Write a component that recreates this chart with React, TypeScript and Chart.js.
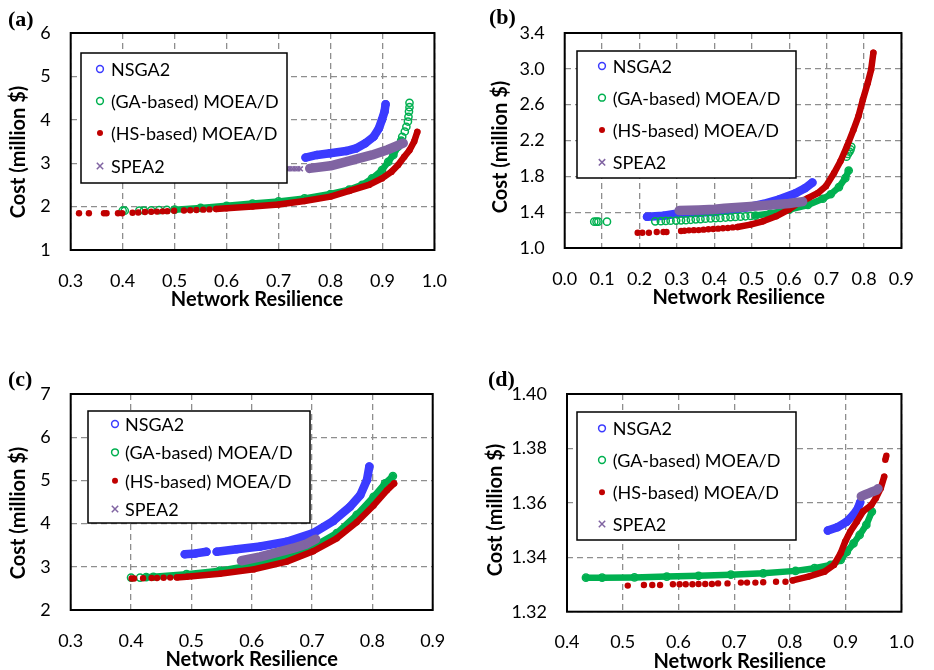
import React, { useEffect, useRef } from "react";
import { Chart, registerables } from "chart.js";
Chart.register(...registerables);

type P = [number, number];

const SERIES_NAMES = ["NSGA2", "(GA-based) MOEA/D", "(HS-based) MOEA/D", "SPEA2"];
const X_TITLE = "Network Resilience";
const Y_TITLE = "Cost (million $)";
const PANEL_LABELS = ["(a)", "(b)", "(c)", "(d)"];

// ---------- Panel (a)
const A_X_TICKS = [0.3, 0.4, 0.5, 0.6, 0.7, 0.8, 0.9, 1.0];
const A_Y_TICKS = [1, 2, 3, 4, 5, 6];
const A_NSGA2: P[] = [[0.752, 3.13], [0.774, 3.19], [0.799, 3.23], [0.830, 3.28], [0.849, 3.34], [0.867, 3.46], [0.883, 3.61], [0.893, 3.80], [0.899, 4.00], [0.904, 4.19], [0.906, 4.36]];
const A_GA_PTS: P[] = [[0.400, 1.905], [0.404, 1.905], [0.432, 1.91], [0.441, 1.91], [0.455, 1.915], [0.470, 1.92], [0.485, 1.925], [0.938, 3.61], [0.943, 3.73], [0.946, 3.84], [0.949, 3.96], [0.950, 4.07], [0.951, 4.19], [0.952, 4.29], [0.952, 4.39]];
const A_GA: P[] = [[0.500, 1.93], [0.550, 1.97], [0.600, 2.02], [0.650, 2.07], [0.700, 2.12], [0.750, 2.19], [0.800, 2.29], [0.836, 2.39], [0.861, 2.50], [0.880, 2.65], [0.899, 2.84], [0.911, 3.03], [0.921, 3.19], [0.930, 3.38], [0.936, 3.52]];
const A_HS_PTS: P[] = [[0.316, 1.846], [0.335, 1.846], [0.364, 1.846], [0.369, 1.846], [0.391, 1.846], [0.399, 1.846], [0.419, 1.86], [0.430, 1.865], [0.443, 1.875], [0.455, 1.88], [0.466, 1.885], [0.477, 1.89], [0.486, 1.895], [0.499, 1.905], [0.518, 1.91], [0.530, 1.915], [0.542, 1.92], [0.555, 1.93], [0.567, 1.935]];
const A_HS: P[] = [[0.580, 1.945], [0.600, 1.96], [0.650, 2.00], [0.700, 2.05], [0.750, 2.13], [0.800, 2.23], [0.836, 2.36], [0.874, 2.50], [0.899, 2.65], [0.917, 2.80], [0.930, 2.96], [0.942, 3.15], [0.952, 3.30], [0.961, 3.50], [0.967, 3.72]];
const A_SPEA2_PTS: P[] = [[0.717, 2.87], [0.722, 2.87], [0.727, 2.87], [0.732, 2.87], [0.737, 2.87], [0.742, 2.87]];
const A_SPEA2: P[] = [[0.760, 2.88], [0.800, 2.94], [0.842, 3.07], [0.880, 3.19], [0.910, 3.31], [0.940, 3.46]];

// ---------- Panel (b)
const B_X_TICKS = [0.0, 0.1, 0.2, 0.3, 0.4, 0.5, 0.6, 0.7, 0.8, 0.9];
const B_Y_TICKS = [1.0, 1.4, 1.8, 2.2, 2.6, 3.0, 3.4];
const B_NSGA2: P[] = [[0.220, 1.348], [0.264, 1.36], [0.302, 1.385], [0.358, 1.394], [0.401, 1.405], [0.444, 1.424], [0.487, 1.454], [0.530, 1.491], [0.574, 1.543], [0.617, 1.61], [0.642, 1.666], [0.662, 1.73]];
const B_GA_PTS: P[] = [[0.079, 1.294], [0.085, 1.294], [0.090, 1.294], [0.113, 1.294], [0.242, 1.298], [0.257, 1.30], [0.270, 1.302], [0.283, 1.304], [0.298, 1.306], [0.311, 1.309], [0.324, 1.31], [0.337, 1.315], [0.350, 1.32], [0.363, 1.323], [0.376, 1.327], [0.390, 1.33], [0.403, 1.333], [0.416, 1.336], [0.430, 1.34], [0.443, 1.343], [0.456, 1.347], [0.470, 1.35], [0.483, 1.354], [0.497, 1.358], [0.753, 2.02], [0.757, 2.05], [0.761, 2.075], [0.764, 2.10], [0.766, 2.13]];
const B_GA: P[] = [[0.510, 1.362], [0.550, 1.385], [0.600, 1.428], [0.650, 1.48], [0.690, 1.55], [0.711, 1.60], [0.733, 1.68], [0.750, 1.78], [0.759, 1.865]];
const B_HS_PTS: P[] = [[0.195, 1.171], [0.2075, 1.171], [0.225, 1.171], [0.246, 1.179], [0.264, 1.179], [0.272, 1.179], [0.311, 1.19], [0.320, 1.192], [0.332, 1.197], [0.345, 1.199], [0.358, 1.20], [0.371, 1.205], [0.384, 1.209], [0.397, 1.212], [0.410, 1.216], [0.423, 1.22], [0.436, 1.224], [0.449, 1.23]];
const B_HS: P[] = [[0.462, 1.235], [0.496, 1.261], [0.530, 1.298], [0.565, 1.354], [0.599, 1.428], [0.625, 1.503], [0.651, 1.558], [0.677, 1.614], [0.698, 1.689], [0.720, 1.837], [0.737, 1.968], [0.7545, 2.135], [0.772, 2.321], [0.785, 2.47], [0.797, 2.657], [0.810, 2.843], [0.819, 2.99], [0.825, 3.18]];
const B_SPEA2: P[] = [[0.306, 1.418], [0.358, 1.424], [0.401, 1.432], [0.427, 1.443], [0.487, 1.461], [0.548, 1.48], [0.599, 1.497], [0.636, 1.518]];

// ---------- Panel (c)
const C_X_TICKS = [0.3, 0.4, 0.5, 0.6, 0.7, 0.8, 0.9];
const C_Y_TICKS = [2, 3, 4, 5, 6, 7];
const C_NSGA2_1: P[] = [[0.489, 3.29], [0.507, 3.31], [0.525, 3.35]];
const C_NSGA2_2: P[] = [[0.542, 3.35], [0.575, 3.405], [0.614, 3.47], [0.658, 3.58], [0.702, 3.78], [0.735, 4.06], [0.763, 4.39], [0.780, 4.66], [0.791, 5.01], [0.795, 5.32]];
const C_GA_PTS: P[] = [[0.400, 2.75], [0.415, 2.75]];
const C_GA: P[] = [[0.425, 2.76], [0.437, 2.77], [0.492, 2.83], [0.547, 2.91], [0.603, 3.04], [0.658, 3.25], [0.702, 3.47], [0.741, 3.78], [0.774, 4.20], [0.802, 4.62], [0.821, 4.93], [0.834, 5.10]];
const C_HS_PTS: P[] = [[0.401, 2.73], [0.405, 2.73], [0.420, 2.735], [0.434, 2.74], [0.443, 2.74], [0.454, 2.745], [0.465, 2.75]];
const C_HS: P[] = [[0.476, 2.755], [0.492, 2.77], [0.547, 2.84], [0.603, 2.94], [0.658, 3.12], [0.702, 3.36], [0.741, 3.66], [0.774, 4.03], [0.802, 4.42], [0.824, 4.77], [0.836, 4.93]];
const C_SPEA2: P[] = [[0.583, 3.14], [0.614, 3.23], [0.641, 3.33], [0.669, 3.43], [0.691, 3.53], [0.706, 3.64]];

// ---------- Panel (d)
const D_X_TICKS = [0.4, 0.5, 0.6, 0.7, 0.8, 0.9, 1.0];
const D_Y_TICKS = [1.32, 1.34, 1.36, 1.38, 1.40];
const D_NSGA2: P[] = [[0.868, 1.3498], [0.885, 1.351], [0.902, 1.3531], [0.914, 1.3556], [0.922, 1.358], [0.926, 1.3602]];
const D_GA: P[] = [[0.434, 1.3325], [0.463, 1.3325], [0.521, 1.3326], [0.579, 1.3329], [0.636, 1.3332], [0.694, 1.3336], [0.752, 1.3341], [0.810, 1.335], [0.844, 1.336], [0.873, 1.3372], [0.891, 1.339], [0.902, 1.342], [0.914, 1.3451], [0.925, 1.3482], [0.937, 1.3519], [0.947, 1.3568]];
const D_HS_PTS: P[] = [[0.509, 1.3296], [0.538, 1.3298], [0.553, 1.3298], [0.567, 1.3298], [0.590, 1.3301], [0.602, 1.3301], [0.613, 1.3301], [0.625, 1.3301], [0.636, 1.3302], [0.648, 1.3302], [0.660, 1.3302], [0.671, 1.3304], [0.688, 1.3304], [0.712, 1.3307], [0.723, 1.3307], [0.738, 1.3307], [0.752, 1.3308], [0.775, 1.331], [0.792, 1.331], [0.971, 1.3758], [0.972, 1.3766], [0.973, 1.3773]];
const D_HS: P[] = [[0.805, 1.3315], [0.833, 1.3329], [0.862, 1.3347], [0.879, 1.3372], [0.891, 1.3415], [0.899, 1.3457], [0.908, 1.3494], [0.920, 1.3531], [0.931, 1.3568], [0.946, 1.3592], [0.954, 1.3617], [0.963, 1.3654], [0.969, 1.3696]];
const D_SPEA2: P[] = [[0.928, 1.3624], [0.935, 1.3630], [0.942, 1.3636], [0.948, 1.3641], [0.955, 1.3646], [0.958, 1.3652]];

// ---------- styling
const STYLES = [
  { color: "#3b3bff", pointStyle: "circle", radius: 3.5, bw: 1.5, fill: "transparent", band: 8.5 },
  { color: "#00b050", pointStyle: "circle", radius: 3.6, bw: 1.5, fill: "transparent", band: 6.5 },
  { color: "#c00000", pointStyle: "circle", radius: 3.2, bw: 0, fill: "#c00000", band: 6.5 },
  { color: "#8064a2", pointStyle: "crossRot", radius: 3.5, bw: 1.5, fill: "transparent", band: 9.5 },
];

type Series = { bands: P[][]; pts: P[][] };
type Cfg = {
  label: string;
  box: { x: number; y: number; w: number; h: number };
  area: { l: number; t: number; r: number; b: number };
  xt: number[]; yt: number[]; xd: number; yd: number;
  series: Series[];
  legend: { dx: number; dy: number; w: number; h: number; mx: number; tx: number; rows: number[] };
  xTitle: [number, number]; yTitle: [number, number]; lab: [number, number];
};

const PANELS: Cfg[] = [
  {
    label: PANEL_LABELS[0], box: { x: 0, y: 0, w: 467, h: 335 }, area: { l: 70.7, t: 33, r: 444, b: 250 },
    xt: A_X_TICKS, yt: A_Y_TICKS, xd: 1, yd: 0,
    series: [
      { bands: [A_NSGA2], pts: [] },
      { bands: [A_GA], pts: [A_GA_PTS] },
      { bands: [A_HS], pts: [A_HS_PTS] },
      { bands: [A_SPEA2], pts: [A_SPEA2_PTS] },
    ],
    legend: { dx: 10.3, dy: 20, w: 206, h: 130, mx: 19, tx: 30, rows: [16, 48, 80, 113] },
    xTitle: [257, 298], yTitle: [17, 152], lab: [8, 8],
  },
  {
    label: PANEL_LABELS[1], box: { x: 467, y: 0, w: 467, h: 335 }, area: { l: 564.7, t: 33, r: 913, b: 248 },
    xt: B_X_TICKS, yt: B_Y_TICKS, xd: 1, yd: 1,
    series: [
      { bands: [B_NSGA2], pts: [] },
      { bands: [B_GA], pts: [B_GA_PTS] },
      { bands: [B_HS], pts: [B_HS_PTS] },
      { bands: [B_SPEA2], pts: [] },
    ],
    legend: { dx: 12.3, dy: 18, w: 219, h: 127, mx: 25, tx: 35.7, rows: [15, 46.7, 79, 111.3] },
    xTitle: [738.7, 296], yTitle: [499, 147], lab: [489, 6],
  },
  {
    label: PANEL_LABELS[2], box: { x: 0, y: 335, w: 467, h: 335 }, area: { l: 70.7, t: 394, r: 432.7, b: 610 },
    xt: C_X_TICKS, yt: C_Y_TICKS, xd: 1, yd: 0,
    series: [
      { bands: [C_NSGA2_1, C_NSGA2_2], pts: [] },
      { bands: [C_GA], pts: [C_GA_PTS] },
      { bands: [C_HS], pts: [C_HS_PTS] },
      { bands: [C_SPEA2], pts: [] },
    ],
    legend: { dx: 17.3, dy: 17, w: 222, h: 112, mx: 27, tx: 37, rows: [13, 41.3, 69.7, 98] },
    xTitle: [251.7, 658], yTitle: [17, 513], lab: [8, 368],
  },
  {
    label: PANEL_LABELS[3], box: { x: 467, y: 335, w: 467, h: 335 }, area: { l: 567, t: 394, r: 913, b: 611.7 },
    xt: D_X_TICKS, yt: D_Y_TICKS, xd: 1, yd: 2,
    series: [
      { bands: [D_NSGA2], pts: [] },
      { bands: [D_GA], pts: [] },
      { bands: [D_HS], pts: [D_HS_PTS] },
      { bands: [D_SPEA2], pts: [] },
    ],
    legend: { dx: 10, dy: 18, w: 219, h: 128, mx: 25, tx: 35.7, rows: [16.3, 48, 80.3, 112] },
    xTitle: [739.7, 660], yTitle: [493.5, 509.5], lab: [488, 368],
  },
];

const TICK_FONT = { family: "Lato", size: 18 };

function drawMarker(ctx: CanvasRenderingContext2D, i: number, x: number, y: number) {
  const s = STYLES[i];
  ctx.save();
  ctx.strokeStyle = s.color;
  ctx.fillStyle = s.color;
  ctx.lineWidth = 1.5;
  if (i === 3) {
    const r = 3.2;
    ctx.beginPath();
    ctx.moveTo(x - r, y - r); ctx.lineTo(x + r, y + r);
    ctx.moveTo(x - r, y + r); ctx.lineTo(x + r, y - r);
    ctx.stroke();
  } else if (i === 2) {
    ctx.beginPath(); ctx.arc(x, y, 3, 0, Math.PI * 2); ctx.fill();
  } else {
    ctx.beginPath(); ctx.arc(x, y, 3.4, 0, Math.PI * 2); ctx.stroke();
  }
  ctx.restore();
}

function Panel({ cfg }: { cfg: Cfg }) {
  const ref = useRef<HTMLCanvasElement>(null);
  useEffect(() => {
    const datasets: any[] = [];
    cfg.series.forEach((s, i) => {
      const st = STYLES[i];
      const order = 3 - i;
      const common = {
        pointStyle: st.pointStyle, pointRadius: st.radius, pointBorderWidth: st.bw,
        pointBorderColor: st.color, pointBackgroundColor: st.fill, order,
      };
      s.bands.forEach((b) => datasets.push({
        ...common, data: b.map(([x, y]) => ({ x, y })), showLine: true,
        borderColor: st.color, borderWidth: st.band, borderCapStyle: "round", borderJoinStyle: "round",
        pointBackgroundColor: i === 2 ? st.color : "transparent",
      }));
      s.pts.forEach((p) => datasets.push({ ...common, data: p.map(([x, y]) => ({ x, y })), showLine: false }));
    });
    const { box, area } = cfg;
    const grid = { color: "#8e8e8e", lineWidth: 1.3, drawTicks: false };
    const border = { display: false, dash: [6, 4] };
    const plugin = {
      id: "frameLegend",
      afterDatasetsDraw(chart: any) {
        const ctx: CanvasRenderingContext2D = chart.ctx;
        const a = chart.chartArea;
        const L = cfg.legend;
        const bx = a.left + L.dx, by = a.top + L.dy;
        ctx.save();
        ctx.fillStyle = "#fff";
        ctx.fillRect(bx, by, L.w, L.h);
        ctx.strokeStyle = "#000";
        ctx.lineWidth = 1.5;
        ctx.strokeRect(bx, by, L.w, L.h);
        ctx.font = "18px Lato";
        ctx.textBaseline = "middle";
        ctx.textAlign = "left";
        SERIES_NAMES.forEach((name, i) => {
          drawMarker(ctx, i, bx + L.mx, by + L.rows[i]);
          ctx.fillStyle = "#000";
          ctx.fillText(name, bx + L.tx, by + L.rows[i] + 1);
        });
        ctx.lineWidth = 2;
        ctx.strokeStyle = "#000";
        ctx.strokeRect(a.left, a.top, a.right - a.left, a.bottom - a.top);
        ctx.restore();
      },
    };
    const chart = new Chart(ref.current as HTMLCanvasElement, {
      type: "scatter",
      data: { datasets },
      options: {
        responsive: false,
        animation: false,
        events: [],
        layout: { padding: { left: 0, top: area.t - box.y, right: box.x + box.w - area.r, bottom: 0 } },
        plugins: { legend: { display: false }, tooltip: { enabled: false } },
        scales: {
          x: {
            type: "linear", position: "bottom",
            min: cfg.xt[0], max: cfg.xt[cfg.xt.length - 1],
            afterBuildTicks: (s: any) => { s.ticks = cfg.xt.map((v) => ({ value: v })); },
            afterFit: (s: any) => { s.height = box.y + box.h - area.b; },
            grid, border,
            ticks: { font: TICK_FONT, color: "#000", padding: 20, maxRotation: 0, callback: (v: any) => Number(v).toFixed(cfg.xd) },
          },
          y: {
            type: "linear", position: "left",
            min: cfg.yt[0], max: cfg.yt[cfg.yt.length - 1],
            afterBuildTicks: (s: any) => { s.ticks = cfg.yt.map((v) => ({ value: v })); },
            afterFit: (s: any) => { s.width = area.l - box.x; },
            grid, border,
            ticks: { font: TICK_FONT, color: "#000", padding: 20, callback: (v: any) => Number(v).toFixed(cfg.yd) },
          },
        },
      } as any,
      plugins: [plugin],
    });
    return () => chart.destroy();
  }, []);
  return (
    <canvas
      ref={ref}
      width={cfg.box.w}
      height={cfg.box.h}
      style={{ position: "absolute", left: cfg.box.x, top: cfg.box.y, width: cfg.box.w, height: cfg.box.h }}
    />
  );
}

const titleFont: React.CSSProperties = {
  position: "absolute", fontFamily: "Lato", fontWeight: 700, fontSize: 20, lineHeight: 1,
  whiteSpace: "nowrap", color: "#000",
};

export default function App() {
  return (
    <div style={{ position: "absolute", left: 0, top: 0, width: 934, height: 670, background: "#fff", overflow: "hidden" }}>
      {PANELS.map((p, i) => (
        <React.Fragment key={i}>
          <Panel cfg={p} />
          <div style={{ ...titleFont, left: p.xTitle[0], top: p.xTitle[1], transform: "translate(-50%,-50%)" }}>{X_TITLE}</div>
          <div style={{ ...titleFont, left: p.yTitle[0], top: p.yTitle[1], transform: "translate(-50%,-50%) rotate(-90deg)" }}>{Y_TITLE}</div>
          <div style={{ position: "absolute", left: p.lab[0], top: p.lab[1], fontFamily: "'Liberation Serif', serif", fontWeight: 700, fontSize: 22, lineHeight: 1 }}>{p.label}</div>
        </React.Fragment>
      ))}
    </div>
  );
}
